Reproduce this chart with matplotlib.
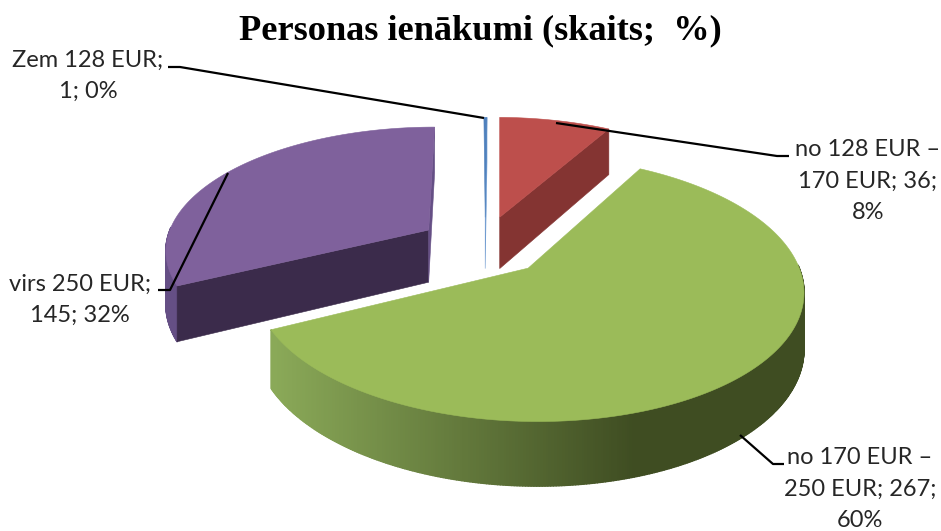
import numpy as np
import matplotlib
matplotlib.use('Agg')
import matplotlib.pyplot as plt
from matplotlib.collections import PolyCollection
from matplotlib.colors import to_rgb

title = 'Personas ienākumi (skaits;  %)'
categories = ['Zem 128 EUR', 'no 128 EUR – 170 EUR', 'no 170 EUR – 250 EUR', 'virs 250 EUR']
values = [1, 36, 267, 145]
labels = ['Zem 128 EUR;\n1; 0%', 'no 128 EUR –\n170 EUR; 36;\n8%',
          'no 170 EUR –\n250 EUR; 267;\n60%', 'virs 250 EUR;\n145; 32%']

# look of the slices
top_colors = ['#4f81bd', '#bd4f4c', '#9bbb59', '#7f619c']
wall_colors = ['#6f9bd0', '#843432', '#3f4d22', '#3b2b4b']
outer_colors = ['#4f81bd', '#843432', '#3f4d22', '#654f85']
explode = [(0.04, 0.218), (0.097, 0.218), (0.196, -0.2), (-0.179, 0.108)]
# which cut walls can be seen: start side, end side
cut_walls = [(False, True), (False, True), (False, False), (True, True)]
label_pos = [(88, 76), (868, 181), (860, 489), (80, 300)]
leaders = [[(168, 67), (180, 67), (484, 118)],
           [(556, 123), (777, 156), (789, 156)],
           [(740, 435), (773, 464), (784, 464)],
           [(228, 173), (170, 290), (158, 290)]]

# projection of the tilted pie onto the page, in pixels
CX, CY = 475, 243
A, B, K = 263, 122, 0.15
DEPTH = 53


def project(u, v, low=False):
    w = 1 + K * v
    x = CX + A * u / w
    y = CY - B * v / w
    if low:
        y = y + DEPTH / w
    return np.column_stack([x, y])


def slice_points(t0, t1, off):
    t = np.radians(np.linspace(t0, t1, max(int(t1 - t0) * 2, 2) + 1))
    return off[0] + np.sin(t), off[1] + np.cos(t), t


def draw_slice(ax, t0, t1, off, top, wall, outer, walls, green=False):
    u, v, t = slice_points(t0, t1, off)

    # outer rim, only the part facing the viewer
    keep = np.cos(t) < 0.03
    if keep.sum() > 1:
        up = project(u[keep], v[keep])
        lo = project(u[keep], v[keep], low=True)
        quads = [[up[i], up[i + 1], lo[i + 1], lo[i]] for i in range(len(up) - 1)]
        if green:
            # rim goes from light on the left to dark on the right
            c0 = np.array(to_rgb('#8aa958'))
            c1 = np.array(to_rgb(outer))
            cols = []
            for q in quads:
                f = np.clip((q[0][0] - 275) / (634 - 275), 0, 1)
                cols.append(c0 + (c1 - c0) * f)
        else:
            cols = [outer] * len(quads)
        ax.add_collection(PolyCollection(quads, facecolors=cols, edgecolors=cols, linewidths=1.0))

    # flat cut walls going from the apex to the rim
    ap_u, ap_v = np.array([off[0]]), np.array([off[1]])
    for i, show, tt in ((0, walls[0], t0), (-1, walls[1], t1)):
        if show:
            a_up = project(ap_u, ap_v)[0]
            a_lo = project(ap_u, ap_v, low=True)[0]
            e_up = project(u[[i]], v[[i]])[0]
            e_lo = project(u[[i]], v[[i]], low=True)[0]
            ax.fill([a_up[0], e_up[0], e_lo[0], a_lo[0]], [a_up[1], e_up[1], e_lo[1], a_lo[1]],
                    color=outer if tt >= 359.9 else wall, lw=0.4)

    # top face
    xy = project(np.r_[off[0], u], np.r_[off[1], v])
    ax.fill(xy[:, 0], xy[:, 1], color=top, lw=0.4)


fig = plt.figure(figsize=(9.41, 5.31), dpi=100)
ax = fig.add_axes([0, 0, 1, 1])
ax.set_xlim(0, 941)
ax.set_ylim(531, 0)
ax.axis('off')

ends = np.cumsum(values) / sum(values) * 360
starts = np.r_[0, ends[:-1]]

# back to front
for i in [3, 0, 1, 2]:
    draw_slice(ax, starts[i], ends[i], explode[i], top_colors[i], wall_colors[i],
               outer_colors[i], cut_walls[i], green=(i == 2))

for pts in leaders:
    ax.plot([p[0] for p in pts], [p[1] for p in pts], color='black', lw=1.6, solid_capstyle='butt')

for txt, pos in zip(labels, label_pos):
    ax.text(pos[0], pos[1], txt, ha='center', va='center', family='Lato', fontsize=17,
            color='#262626', linespacing=1.62)

ax.text(480, 31, title, ha='center', va='center', family='Liberation Serif',
        fontweight='bold', fontsize=26.2, color='black')

fig.savefig('out.png', dpi=100, facecolor='white')
